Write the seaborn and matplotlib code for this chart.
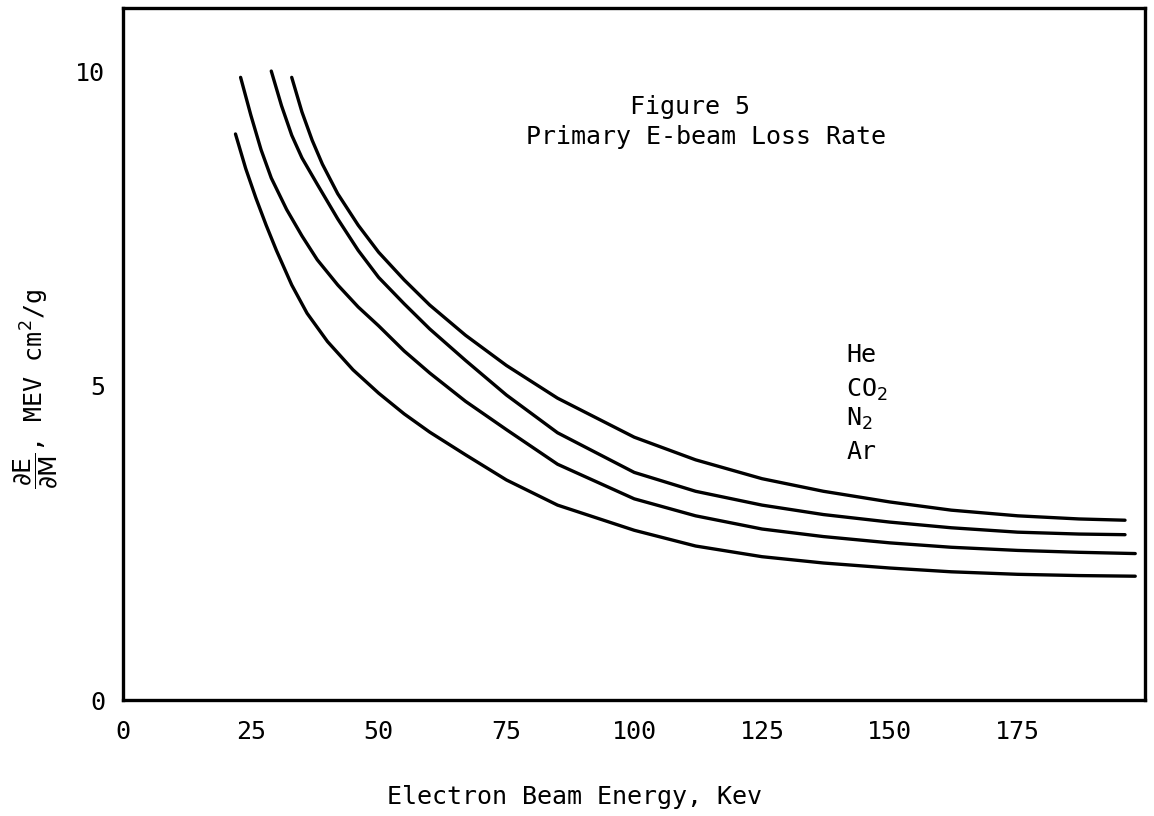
import matplotlib
matplotlib.use("Agg")
import matplotlib.pyplot as plt
import seaborn as sns
import pandas as pd

# ---- data (Electron beam energy, keV -> dE/dM, MeV cm^2/g) ----
he_x  = [33, 35, 37, 39, 42, 46, 50, 55, 60, 67, 75, 85, 100, 112, 125, 137, 150, 162, 175, 187, 196]
he_y  = [9.9, 9.35, 8.9, 8.52, 8.05, 7.55, 7.12, 6.68, 6.28, 5.8, 5.32, 4.8, 4.18, 3.82, 3.52, 3.32, 3.15, 3.02, 2.93, 2.88, 2.86]
co2_x = [29, 31, 33, 35, 38, 42, 46, 50, 55, 60, 67, 75, 85, 100, 112, 125, 137, 150, 162, 175, 187, 196]
co2_y = [10.0, 9.45, 8.98, 8.62, 8.2, 7.65, 7.15, 6.72, 6.3, 5.9, 5.4, 4.85, 4.25, 3.62, 3.32, 3.1, 2.95, 2.83, 2.74, 2.67, 2.64, 2.63]
n2_x  = [23, 25, 27, 29, 32, 35, 38, 42, 46, 50, 55, 60, 67, 75, 85, 100, 112, 125, 137, 150, 162, 175, 187, 198]
n2_y  = [9.9, 9.3, 8.75, 8.3, 7.8, 7.38, 7.0, 6.6, 6.25, 5.95, 5.55, 5.2, 4.75, 4.3, 3.75, 3.2, 2.93, 2.72, 2.6, 2.5, 2.43, 2.38, 2.35, 2.33]
ar_x  = [22, 24, 26, 28, 30, 33, 36, 40, 45, 50, 55, 60, 67, 75, 85, 100, 112, 125, 137, 150, 162, 175, 187, 198]
ar_y  = [9.0, 8.45, 7.98, 7.55, 7.15, 6.6, 6.15, 5.7, 5.25, 4.88, 4.55, 4.26, 3.9, 3.5, 3.1, 2.7, 2.45, 2.28, 2.18, 2.1, 2.04, 2.0, 1.98, 1.97]

gases = ["He", "CO2", "N2", "Ar"]
gas_labels = ["He", "CO$_2$", "N$_2$", "Ar"]
x_ticks = [0, 25, 50, 75, 100, 125, 150, 175]
y_ticks = [0, 5, 10]

rows = []
for g, xs, ys in zip(gases, [he_x, co2_x, n2_x, ar_x], [he_y, co2_y, n2_y, ar_y]):
    for xv, yv in zip(xs, ys):
        rows.append((g, xv, yv))
df = pd.DataFrame(rows, columns=["gas", "energy", "loss"])

sns.set_theme(style="white")
plt.rcParams["font.family"] = ["DejaVu Sans Mono", "DejaVu Sans"]
plt.rcParams["mathtext.fontset"] = "dejavusans"

FS = 18

fig = plt.figure(figsize=(11.54, 8.16), dpi=100)
ax = fig.add_axes([0.1066, 0.142, 0.886, 0.848])

sns.lineplot(data=df, x="energy", y="loss", hue="gas", hue_order=gases,
             estimator=None, sort=False, palette=["black"] * 4,
             legend=False, linewidth=2.4, ax=ax)

ax.set_xlim(0, 200)
ax.set_ylim(0, 11)
ax.set_xticks(x_ticks)
ax.set_yticks(y_ticks)
ax.tick_params(axis="both", direction="in", length=9, width=2.5,
               colors="black", labelsize=FS)
ax.tick_params(axis="x", pad=14)
ax.tick_params(axis="y", pad=13)
for s in ax.spines.values():
    s.set_linewidth(2.4)
    s.set_color("black")

ax.set_xlabel("Electron Beam Energy, Kev", fontsize=FS, color="black")
ax.xaxis.set_label_coords(0.442, -0.122)
ax.set_ylabel(r"$\dfrac{\partial \mathrm{E}}{\partial \mathrm{M}}$, MEV cm$^2$/g",
              fontsize=FS, color="black")
ax.yaxis.set_label_coords(-0.062, 0.45)

ax.text(111, 9.43, "Figure 5", ha="center", va="center", fontsize=FS, color="black")
ax.text(114, 8.95, "Primary E-beam Loss Rate", ha="center", va="center", fontsize=FS, color="black")

lab_y = [5.37, 4.82, 4.36, 3.83]
for lab, yy in zip(gas_labels, lab_y):
    ax.text(141.5, yy, lab, ha="left", va="baseline", fontsize=FS, color="black")

fig.savefig("out.png", dpi=100)
